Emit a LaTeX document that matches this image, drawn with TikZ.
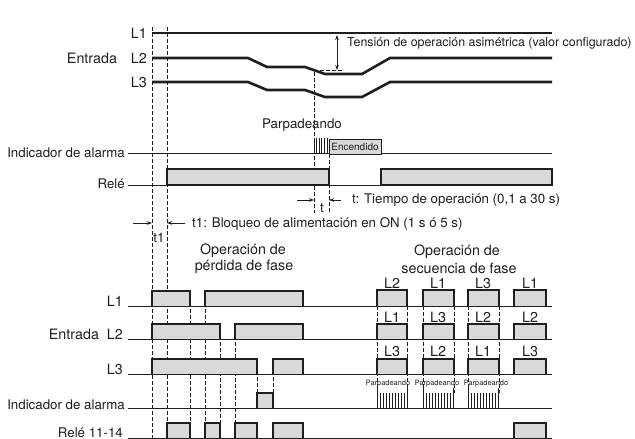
\documentclass[tikz,border=0pt]{standalone}
\usepackage{fontspec}
\setmainfont{TeX Gyre Heros}
\usetikzlibrary{arrows.meta}
\definecolor{boxgray}{RGB}{217,217,217}
\definecolor{ink}{RGB}{30,30,30}
\begin{document}
\begin{tikzpicture}[x=1pt,y=-1pt,
  sig/.style={ink,line width=2.6pt,line join=miter},
  baseln/.style={ink,line width=1pt},
  dsh/.style={ink,line width=0.8pt,dash pattern=on 3.5pt off 2.5pt},
  edge/.style={ink,line width=1.6pt},
  big/.style={font=\fontsize{14.3}{16}\selectfont,inner sep=0pt,text=ink},
  lbl/.style={font=\fontsize{13.3}{15}\selectfont,inner sep=0pt,text=ink},
  tiny/.style={font=\fontsize{7.4}{8}\selectfont,inner sep=0pt,text=ink},
  arr/.style={ink,line width=0.8pt,-{Stealth[length=5pt,width=3.5pt]}},
  blink/.style={ink,line width=0.9pt}]
\useasboundingbox (0,0) rectangle (635,439);

% ---------------- dashed guides ----------------
\draw[dsh] (152,27) -- (152,439);
\draw[dsh] (167,27) -- (167,423);
\draw[dsh] (314,72) -- (314,213);
\draw[dsh] (329,154) -- (329,213);
\foreach \x/\a/\b in {190/291/423,205/291/423,220/324/423,235/324/423,257/359/393,273/359/393}
  \draw[dsh] (\x,\a) -- (\x,\b);
\foreach \x in {377,407,423,454,468,499}
  \draw[dsh] (\x,306) -- (\x,393);

% ---------------- top: input voltages ----------------
\draw[sig] (152,33) -- (552,33);
\draw[sig] (152,58) -- (248,58) -- (267,67) -- (305,67) -- (325,74) -- (362,74) -- (390,58) -- (552,58);
\draw[sig] (152,82) -- (248,82) -- (267,90) -- (305,90) -- (325,97) -- (362,97) -- (390,82) -- (552,82);
\coordinate (hl) at (320,70); \coordinate (hr) at (343,70);
\draw[dsh] (hl) -- (hr);
\coordinate (va) at (337,35); \coordinate (vb) at (337,70);
\draw[ink,line width=0.8pt,{Stealth[length=5pt,width=3.5pt]}-{Stealth[length=5pt,width=3.5pt]}] (va) -- (vb);
\node[lbl,font=\fontsize{12.4}{14}\selectfont,anchor=west] (tension) at (347,43) {Tensión de operación asimétrica (valor configurado)};
\node[big,anchor=east] (tl1) at (147,33) {L1};
\node[big,anchor=east] (tl2) at (147,58) {L2};
\node[big,anchor=east] (tl3) at (147,82) {L3};
\node[big] (entrada) at (92,58) {Entrada};

% ---------------- top: alarm indicator ----------------
\node[lbl] (parp) at (302,125) {Parpadeando};
\draw[baseln] (128,153) -- (552,153);
\foreach \x in {314,316.6,319.2,321.8,324.4,327}
  \draw[blink] (\x,138) -- (\x,153);
\node[draw=ink,fill=boxgray,line width=1pt,minimum width=52pt,minimum height=15pt,inner sep=0pt,
  font=\fontsize{10}{11}\selectfont,text=ink] (enc) at (355,146.5) {Encendido};
\node[lbl,anchor=east] (indic) at (125,153) {Indicador de alarma};

% ---------------- top: relay ----------------
\draw[baseln] (128,185) -- (552,185);
\draw[edge,fill=boxgray] (167,169) rectangle (329,185);
\draw[edge,fill=boxgray] (381,169) rectangle (552,185);
\node[lbl,anchor=east] (rele) at (125,184) {Relé};

% ---------------- timing annotations ----------------
\coordinate (ta) at (297,200); \coordinate (tb) at (314,200);
\coordinate (tc) at (341,200); \coordinate (td) at (329,200);
\draw[arr] (ta) -- (tb);
\draw[arr] (tc) -- (td);
\node[lbl] (tlab) at (322,208.5) {t};
\node[lbl,anchor=west] (ttext) at (352,200) {t: Tiempo de operación (0,1 a 30 s)};

\coordinate (t1a) at (133,223); \coordinate (t1b) at (152,223);
\coordinate (t1c) at (185,223); \coordinate (t1d) at (167,223);
\draw[arr] (t1a) -- (t1b);
\draw[arr] (t1c) -- (t1d);
\node[lbl] (t1lab) at (159,238) {t1};
\node[lbl,anchor=west] (t1text) at (192,224) {t1: Bloqueo de alimentación en ON (1 s ó 5 s)};

% ---------------- bottom titles ----------------
\node[big] (op1) at (243,251) {Operación de};
\node[big] (op2) at (244,267) {pérdida de fase};
\node[big] (op3) at (457,252) {Operación de};
\node[big] (op4) at (459,268) {secuencia de fase};

% ---------------- bottom baselines ----------------
\foreach \y in {306,339,374,408,438}
  \draw[baseln] (128,\y) -- (552,\y);

% ---------------- bottom pulses ----------------
\foreach \a/\b/\t/\s in {
  152/190/291/306, 205/303/291/306,
  152/220/324/339, 235/303/324/339,
  152/257/359/374, 273/303/359/374,
  257/273/393/408,
  167/190/423/438, 205/220/423/438, 235/257/423/438, 273/303/423/438,
  377/407/290/306, 423/454/290/306, 468/499/290/306, 514/546/290/306,
  377/407/324/339, 423/454/324/339, 468/499/324/339, 514/546/324/339,
  377/407/359/374, 423/454/359/374, 468/499/359/374, 514/546/359/374,
  514/546/423/438}
{
  \fill[boxgray] (\a,\t) rectangle (\b,\s);
  \draw[edge] (\a,\s) -- (\a,\t) -- (\b,\t) -- (\b,\s);
}

% ---------------- blinking groups ----------------
\foreach \g in {377,423,468}{
  \draw[blink] (\g,388) -- (\g,408);
  \draw[blink] (\g+30,388) -- (\g+30,408);
  \foreach \k in {1,...,9}
    \draw[blink] (\g+3*\k,393) -- (\g+3*\k,408);
}
\node[tiny] (pb1) at (388,384) {Parpadeando};
\node[tiny] (pb2) at (437,384) {Parpadeando};
\node[tiny] (pb3) at (486,384) {Parpadeando};

% ---------------- bottom row labels ----------------
\node[big,anchor=base east] (bl1) at (123,306) {L1};
\node[big,anchor=base east] (bl2) at (123,339) {Entrada\ \ L2};
\node[big,anchor=base east] (bl3) at (123,374) {L3};
\node[lbl,anchor=base east] (bind) at (125,409) {Indicador de alarma};
\node[lbl,anchor=base east] (brel) at (123,437) {Relé 11-14};

% ---------------- sequence labels ----------------
\foreach \x/\l [count=\i] in {392/L2,438/L1,483/L3,530/L1}
  \node[big] (ra\i) at (\x,283) {\l};
\foreach \x/\l [count=\i] in {392/L1,438/L3,483/L2,530/L2}
  \node[big] (rb\i) at (\x,317) {\l};
\foreach \x/\l [count=\i] in {392/L3,438/L2,483/L1,530/L3}
  \node[big] (rc\i) at (\x,351) {\l};
\end{tikzpicture}
\end{document}
